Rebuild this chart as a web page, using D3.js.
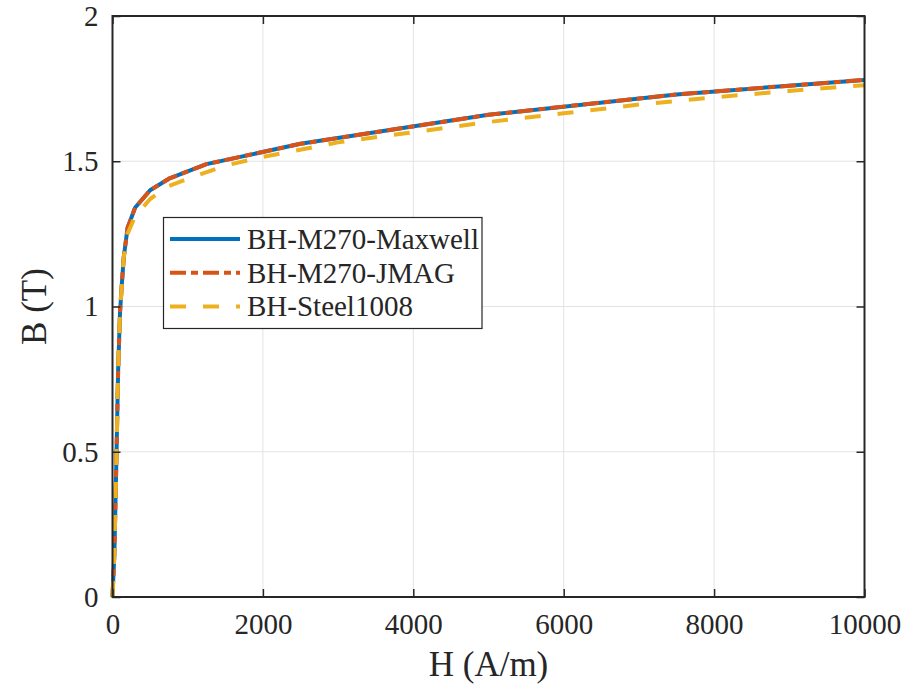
<!DOCTYPE html>
<html>
<head>
<meta charset="utf-8">
<script src="https://cdn.jsdelivr.net/npm/d3@7"></script>
<style>
  body { margin: 0; background: #fff; }
  svg { display: block; }
  text { font-family: "Liberation Serif", Tinos, "DejaVu Serif", "Times New Roman", serif; fill: #262626; }
</style>
</head>
<body>
<svg id="chart" width="921" height="686"></svg>
<script>
// ---- data ----
const seriesNames = ["BH-M270-Maxwell", "BH-M270-JMAG", "BH-Steel1008"];
const hM270 = [0, 25, 50, 75, 100, 125, 150, 200, 300, 500, 750, 1250, 2500, 5000, 7500, 10000];
const bM270Maxwell = [0, 0.15, 0.45, 0.78, 0.98, 1.08, 1.17, 1.27, 1.34, 1.40, 1.44, 1.49, 1.56, 1.66, 1.73, 1.78];
const bM270JMAG = [0, 0.15, 0.45, 0.78, 0.98, 1.08, 1.17, 1.27, 1.34, 1.40, 1.44, 1.49, 1.56, 1.66, 1.73, 1.78];
const hSteel = [0, 25, 50, 75, 100, 150, 200, 300, 500, 750, 1000, 1500, 2000, 3000, 4000, 5000, 6000, 7000, 8000, 9000, 10000];
const bSteel = [0, 0.15, 0.45, 0.78, 0.98, 1.17, 1.25, 1.31, 1.37, 1.415, 1.44, 1.485, 1.515, 1.565, 1.60, 1.635, 1.665, 1.695, 1.72, 1.742, 1.762];
const xTicks = [0, 2000, 4000, 6000, 8000, 10000];
const yTicks = [0, 0.5, 1, 1.5, 2];

const colors = ["#0072BD", "#D95319", "#EDB120"];
const dashes = [null, "16,5,7,5", "16,17"];
const FONT = '"Liberation Serif", Tinos, "DejaVu Serif", "Times New Roman", serif';

const svg = d3.select("#chart");
const L = 112.5, R = 864.5, T = 16, B = 597;
const x = d3.scaleLinear().domain([0, 10000]).range([L, R]);
const y = d3.scaleLinear().domain([0, 2]).range([B, T]);

// grid
const grid = svg.append("g");
grid.selectAll("line.gx").data(xTicks.slice(1, -1)).enter().append("line")
  .attr("x1", d => x(d)).attr("x2", d => x(d)).attr("y1", T).attr("y2", B)
  .attr("stroke", "#e3e3e3").attr("stroke-width", 1);
grid.selectAll("line.gy").data(yTicks.slice(1, -1)).enter().append("line")
  .attr("y1", d => y(d)).attr("y2", d => y(d)).attr("x1", L).attr("x2", R)
  .attr("stroke", "#e3e3e3").attr("stroke-width", 1);

// lines
const series = [
  { h: hM270, b: bM270Maxwell },
  { h: hM270, b: bM270JMAG },
  { h: hSteel, b: bSteel }
];
const line = d3.line().x(d => x(d[0])).y(d => y(d[1]));
series.forEach((s, i) => {
  const pts = s.h.map((h, j) => [h, s.b[j]]);
  svg.append("path").datum(pts).attr("d", line)
    .attr("fill", "none").attr("stroke", colors[i]).attr("stroke-width", 4)
    .attr("stroke-dasharray", dashes[i]).attr("stroke-linejoin", "round");
});

// axes
const tickLen = 8;
const xAxB = d3.axisBottom(x).tickValues(xTicks).tickSize(-tickLen).tickPadding(16).tickFormat(d3.format("d"));
const xAxT = d3.axisTop(x).tickValues(xTicks).tickSize(-tickLen).tickFormat("");
const yAxL = d3.axisLeft(y).tickValues(yTicks).tickSize(-tickLen).tickPadding(14).tickFormat(d => d3.format("")(d));
const yAxR = d3.axisRight(y).tickValues(yTicks).tickSize(-tickLen).tickFormat("");

function style(g) {
  g.attr("font-family", null).attr("font-size", null);
  g.select(".domain").remove();
  g.selectAll(".tick line").attr("stroke", "#262626").attr("stroke-width", 1.5);
  g.selectAll(".tick text").attr("fill", "#262626").attr("font-family", FONT).style("font-family", FONT).style("font-size", "29px");
}
svg.append("g").attr("transform", `translate(0,${B})`).call(xAxB).call(style);
svg.append("g").attr("transform", `translate(0,${T})`).call(xAxT).call(style);
svg.append("g").attr("transform", `translate(${L},0)`).call(yAxL).call(style);
svg.append("g").attr("transform", `translate(${R},0)`).call(yAxR).call(style);

svg.append("rect").attr("x", L).attr("y", T).attr("width", R - L).attr("height", B - T)
  .attr("fill", "none").attr("stroke", "#262626").attr("stroke-width", 2);

// axis titles
svg.append("text").attr("x", (L + R) / 2).attr("y", 676).attr("text-anchor", "middle")
  .style("font-family", FONT).style("font-size", "35px").text("H (A/m)");
svg.append("text").attr("transform", `translate(46,${(T + B) / 2}) rotate(-90)`).attr("text-anchor", "middle")
  .style("font-family", FONT).style("font-size", "35px").text("B (T)");

// legend
const lg = svg.append("g");
lg.append("rect").attr("x", 163.5).attr("y", 217.5).attr("width", 318.5).attr("height", 111)
  .attr("fill", "#fff").attr("stroke", "#262626").attr("stroke-width", 1.2);
seriesNames.forEach((name, i) => {
  const yy = 239 + i * 33.7;
  lg.append("line").attr("x1", 170).attr("x2", 240).attr("y1", yy).attr("y2", yy)
    .attr("stroke", colors[i]).attr("stroke-width", 4).attr("stroke-dasharray", dashes[i]);
  lg.append("text").attr("x", 247).attr("y", yy + 10).style("font-family", FONT).style("font-size", "29px").text(name);
});
</script>
</body>
</html>
